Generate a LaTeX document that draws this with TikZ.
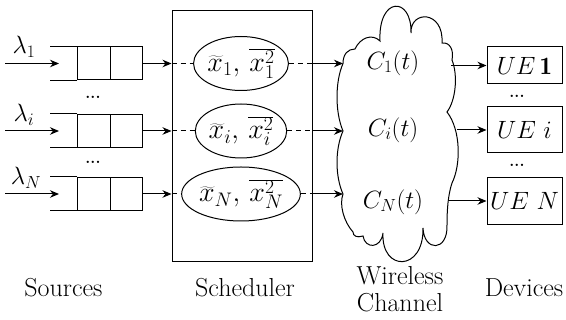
\RequirePackage{fix-cm}
\documentclass[tikz,border=0pt]{standalone}
\usepackage{fontspec}
\usetikzlibrary{arrows.meta,shapes.geometric}
\tikzset{
  every picture/.style={line width=1pt},
  cell/.style={draw, minimum width=32.5pt, minimum height=33pt, inner sep=0pt},
  ell/.style={draw, ellipse, minimum width=86pt, minimum height=54pt, inner sep=0pt, font=\fontsize{28}{32}\selectfont},
  uebox/.style={draw, minimum width=75pt, inner sep=0pt, font=\fontsize{25}{28}\selectfont},
  lbl/.style={inner sep=0pt, font=\fontsize{26}{27}\selectfont, align=center},
  mlbl/.style={inner sep=0pt, font=\fontsize{25}{28}\selectfont},
  dotsl/.style={inner sep=0pt, font=\fontsize{16}{16}\selectfont\bfseries},
  arr/.style={-{Stealth[length=9pt,width=7.5pt]}},
  dsh/.style={dash pattern=on 5pt off 4pt},
}
\begin{document}
\begin{tikzpicture}[x=1pt,y=-1pt]
\useasboundingbox (0,0) rectangle (566,320);

% scheduler
\node[draw, minimum width=140pt, minimum height=251pt, inner sep=0pt] (sched) at (242,136.5) {};

% queues
\foreach \n/\y in {1/63.5, 2/131, 3/194} {
  \node[cell] (q\n a) at (94,\y) {};
  \node[cell] (q\n b) at (126.5,\y) {};
  \draw (q\n a.north west) -- ++(-27,0);
  \draw (q\n a.south west) -- ++(-27,0);
  \coordinate (s\n) at (5,\y);
  \coordinate (s\n e) at (59,\y);
  \draw[arr] (s\n) -- (s\n e);
  \draw[arr] (q\n b.east) -- (q\n b.east -| sched.west);
}
\node[mlbl] (l1) at (24,47) {$\lambda_1$};
\node[mlbl] (l2) at (24,115) {$\lambda_i$};
\node[mlbl] (l3) at (26,178) {$\lambda_N$};
\node[dotsl] (d1) at (93,97) {...};
\node[dotsl] (d2) at (93,162) {...};

% ellipses
\node[ell] (e1) at (241,63.5) {$\widetilde{x}_1,\,\overline{x_1^2}$};
\node[ell] (e2) at (241,131) {$\widetilde{x}_i,\,\overline{x_i^2}$};
\node[ell] (e3) at (241,194) {$\widetilde{x}_N,\,\overline{x_N^2}$};
\foreach \n in {1,2,3} {
  \draw[dsh] (e\n.west -| sched.west) -- (e\n.west);
  \draw[dsh] (e\n.east) -- (e\n.east -| sched.east);
}

% cloud
\coordinate (c1) at (343,63.5);
\coordinate (c2) at (343,131);
\coordinate (c3) at (343,194);
\draw (353,232) .. controls (344,222) and (339,205) .. (c3)
  .. controls (335,176) and (335,149) .. (c2)
  .. controls (335,112) and (335,82) .. (c1)
  .. controls (343,54) and (348,49) .. (355,49)
  .. controls (360,38) and (372,33) .. (380,41)
  .. controls (378,-4) and (412,-4) .. (411,33)
  .. controls (410,10) and (444,10) .. (442,43)
  .. controls (450,42) and (454,50) .. (452,60)
  .. controls (458,75) and (456,100) .. (447,112)
  .. controls (461,130) and (461,165) .. (452,183)
  .. controls (448,195) and (447,210) .. (447,225)
  .. controls (448,252) and (424,252) .. (423,228)
  .. controls (424,272) and (381,272) .. (383,233)
  .. controls (381,249) and (365,249) .. (363,236)
  .. controls (357,238) and (353,236) .. cycle;
\foreach \n in {1,2,3} {
  \draw[arr] (e\n.east -| sched.east) -- (c\n);
}
\node[mlbl] (cl1) at (393,63) {$C_1(t)$};
\node[mlbl] (cl2) at (393,130) {$C_i(t)$};
\node[mlbl] (cl3) at (393,202) {$C_N(t)$};

% devices
\node[uebox, minimum height=37pt] (ue1) at (524.5,65.5) {$UE\,\mathbf{1}$};
\node[uebox, minimum height=46pt] (ue2) at (524.5,130) {$UE\ i$};
\node[uebox, minimum height=47pt] (ue3) at (524.5,201) {$UE\ N$};
\coordinate (o1) at (451,65.5);
\coordinate (o2) at (457,130);
\coordinate (o3) at (448,201);
\draw[arr] (o1) -- (ue1.west);
\draw[arr] (o2) -- (ue2.west);
\draw[arr] (o3) -- (ue3.west);
\node[dotsl] (d3) at (517,96) {...};
\node[dotsl] (d4) at (517,165) {...};

% bottom labels
\node[lbl] (t1) at (63.5,288) {Sources};
\node[lbl] (t2) at (245,288) {Scheduler};
\node[lbl] (t3) at (400,289) {Wireless\\Channel};
\node[lbl] (t4) at (524,288) {Devices};
\end{tikzpicture}
\end{document}
